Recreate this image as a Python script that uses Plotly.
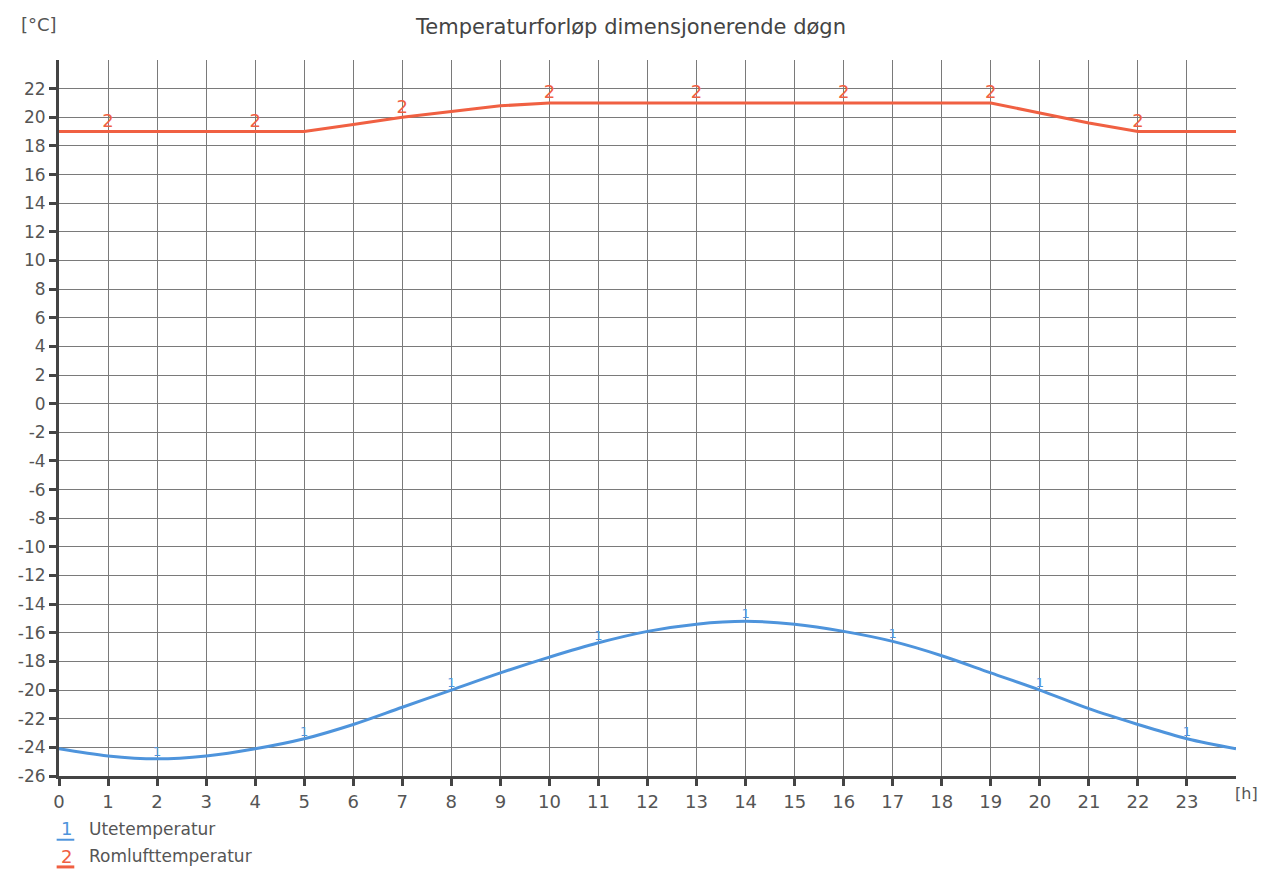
import plotly.graph_objects as go

hours = list(range(0, 25))
ute = [-24.1, -24.6, -24.8, -24.6, -24.1, -23.4, -22.4, -21.2, -20.0, -18.8, -17.7,
       -16.7, -15.9, -15.4, -15.2, -15.4, -15.9, -16.6, -17.6, -18.8, -20.0, -21.3,
       -22.4, -23.4, -24.1]
rom = [19, 19, 19, 19, 19, 19, 19.5, 20, 20.4, 20.8, 21, 21, 21, 21, 21, 21, 21, 21,
       21, 21, 20.3, 19.6, 19, 19, 19]

ute_label_hours = [2, 5, 8, 11, 14, 17, 20, 23]
rom_label_hours = [1, 4, 7, 10, 13, 16, 19, 22]

x_ticks = list(range(0, 24))
y_ticks = list(range(-26, 23, 2))

title_text = "Temperaturforløp dimensjonerende døgn"
y_unit = "[°C]"
x_unit = "[h]"
series_names = ["Utetemperatur", "Romlufttemperatur"]

BLUE = "rgb(78,148,220)"
RED = "rgb(240,96,66)"
GREY = "#555555"
FONT = "DejaVu Sans"

fig = go.Figure()
fig.add_trace(go.Scatter(x=hours, y=ute, mode="lines",
                         line=dict(color=BLUE, width=3, shape="spline"),
                         name=series_names[0], hoverinfo="x+y"))
fig.add_trace(go.Scatter(x=hours, y=rom, mode="lines",
                         line=dict(color=RED, width=3),
                         name=series_names[1], hoverinfo="x+y"))
fig.add_trace(go.Scatter(x=ute_label_hours, y=[ute[h] for h in ute_label_hours],
                         mode="text", text=["1"] * len(ute_label_hours),
                         textposition="top center",
                         textfont=dict(color=BLUE, size=13, family=FONT),
                         hoverinfo="skip"))
fig.add_trace(go.Scatter(x=rom_label_hours, y=[rom[h] for h in rom_label_hours],
                         mode="text", text=["2"] * len(rom_label_hours),
                         textposition="top center",
                         textfont=dict(color=RED, size=18, family=FONT),
                         hoverinfo="skip"))

fig.update_layout(
    width=1262, height=871, autosize=False,
    margin=dict(l=59, r=26, t=60, b=95),
    paper_bgcolor="white", plot_bgcolor="white",
    showlegend=False,
    font=dict(family=FONT, color=GREY),
    title=dict(text=title_text, x=0.5, xanchor="center", y=0.969, yanchor="middle",
               font=dict(size=21, color="#444444", family=FONT)),
)
fig.update_xaxes(range=[0, 24], tickvals=x_ticks, ticktext=[str(t) for t in x_ticks],
                 showgrid=True, gridcolor="#7a7a7a", gridwidth=1,
                 showline=True, linecolor="#444444", linewidth=3,
                 ticks="outside", ticklen=7, tickwidth=3, tickcolor="#444444",
                 tickfont=dict(size=18, color=GREY, family=FONT), zeroline=False,
                 fixedrange=True)
fig.update_yaxes(range=[-26, 24], tickvals=y_ticks, ticktext=[str(t) for t in y_ticks],
                 showgrid=True, gridcolor="#7a7a7a", gridwidth=1,
                 showline=True, linecolor="#444444", linewidth=3,
                 ticks="outside", ticklen=7, tickwidth=3, tickcolor="#444444",
                 tickfont=dict(size=17, color=GREY, family=FONT), zeroline=False,
                 fixedrange=True)

ann = [
    dict(text=y_unit, x=-0.034, y=1.05, xanchor="left", yanchor="middle",
         font=dict(size=18, color=GREY)),
    dict(text=x_unit, x=1.0195, y=-0.024, xanchor="right", yanchor="middle",
         font=dict(size=16, color=GREY), borderpad=0),
    dict(text="1", x=0.0, y=-0.074, xanchor="left", yanchor="middle",
         font=dict(size=18, color=BLUE)),
    dict(text=series_names[0], x=0.024, y=-0.074, xanchor="left", yanchor="middle",
         font=dict(size=17, color=GREY)),
    dict(text="2", x=0.0, y=-0.112, xanchor="left", yanchor="middle",
         font=dict(size=18, color=RED)),
    dict(text=series_names[1], x=0.024, y=-0.112, xanchor="left", yanchor="middle",
         font=dict(size=17, color=GREY)),
]
for a in ann:
    a.update(xref="paper", yref="paper", showarrow=False)
fig.update_layout(annotations=ann)
fig.add_shape(type="line", xref="paper", yref="paper", x0=-0.002, x1=0.013,
              y0=-0.089, y1=-0.089, line=dict(color=BLUE, width=2))
fig.add_shape(type="line", xref="paper", yref="paper", x0=-0.002, x1=0.013,
              y0=-0.127, y1=-0.127, line=dict(color=RED, width=3))

fig.write_html("out.html")
